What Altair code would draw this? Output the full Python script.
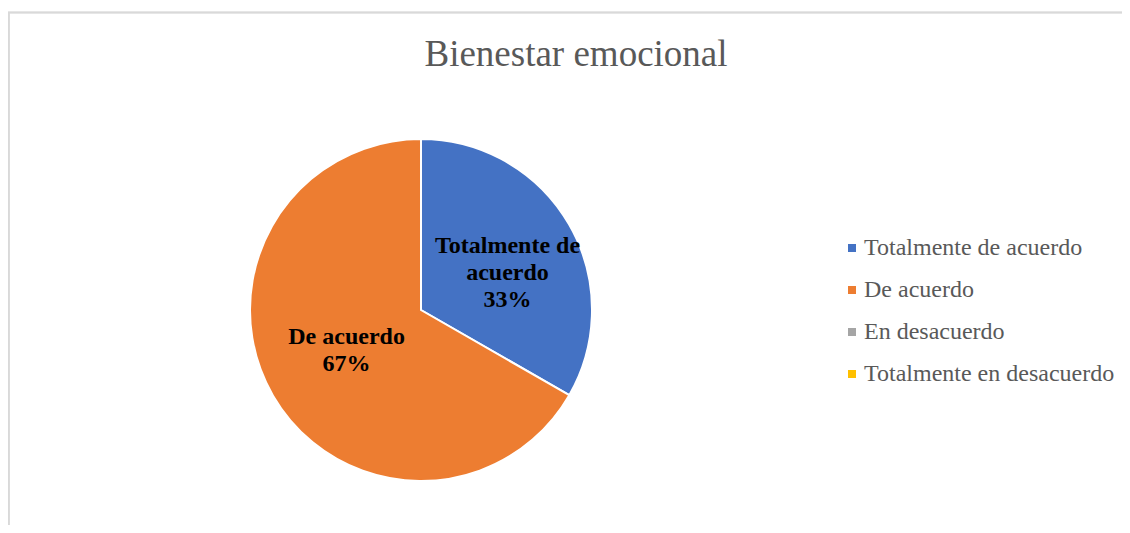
import altair as alt
import pandas as pd

categories = ["Totalmente de acuerdo", "De acuerdo", "En desacuerdo", "Totalmente en desacuerdo"]
values = [33.3, 66.7, 0, 0]
label_names = ["Totalmente de\nacuerdo", "De acuerdo", "En desacuerdo", "Totalmente en\ndesacuerdo"]
colors = ["#4472C4", "#ED7D31", "#A5A5A5", "#FFC000"]

df = pd.DataFrame({
    "categoria": categories,
    "valor": values,
    "idx": list(range(len(categories))),
    "etiqueta": [f"{n}\n{round(v)}%" for n, v in zip(label_names, values)],
})

W, H = 1114, 517
CX, CY = 413, 302

base = alt.Chart(df).encode(
    theta=alt.Theta("valor:Q", stack=True),
    order=alt.Order("idx:Q"),
)

pie = base.mark_arc(radius=171, stroke="white", strokeWidth=2).encode(
    x=alt.value(CX), y=alt.value(CY),
    color=alt.Color(
        "categoria:N",
        scale=alt.Scale(domain=categories, range=colors),
        legend=alt.Legend(
            orient="none", legendX=832, legendY=228, title=None,
            symbolType="square", symbolSize=64, symbolStrokeWidth=0,
            labelFontSize=24, labelFont="Liberation Serif", labelColor="#595959",
            labelOffset=0, rowPadding=18, padding=0, labelLimit=400,
        ),
    ),
)

text_style = dict(font="Liberation Serif", fontSize=24, fontWeight="bold",
                  color="black", lineBreak="\n", lineHeight=27,
                  align="center", baseline="middle")

lab_blue = base.mark_text(radius=100, dy=-14, **text_style).encode(
    x=alt.value(CX), y=alt.value(CY),
    text=alt.condition("datum.idx == 0", "etiqueta:N", alt.value("")),
)

lab_orange = base.mark_text(radius=86, dy=-16, **text_style).encode(
    x=alt.value(CX), y=alt.value(CY),
    text=alt.condition("datum.idx == 1", "etiqueta:N", alt.value("")),
)

border_top = alt.Chart(df).mark_rule(color="#D9D9D9", strokeWidth=1.5).encode(
    x=alt.value(0), x2=alt.value(W), y=alt.value(4.5)
)
border_left = alt.Chart(df).mark_rule(color="#D9D9D9", strokeWidth=1.5).encode(
    x=alt.value(0.75), y=alt.value(4.5), y2=alt.value(H)
)

chart = alt.layer(border_top, border_left, pie, lab_blue, lab_orange).properties(
    width=W, height=H,
    autosize=alt.AutoSizeParams(type="none"),
    padding=0,
    title=alt.TitleParams(
        "Bienestar emocional", font="Liberation Serif", fontSize=37,
        fontWeight="normal", color="#595959", anchor="middle",
        offset=-66, dx=11,
    ),
).configure_view(strokeWidth=0)

chart.save("out.html", embed_options={"renderer": "svg", "actions": False})
